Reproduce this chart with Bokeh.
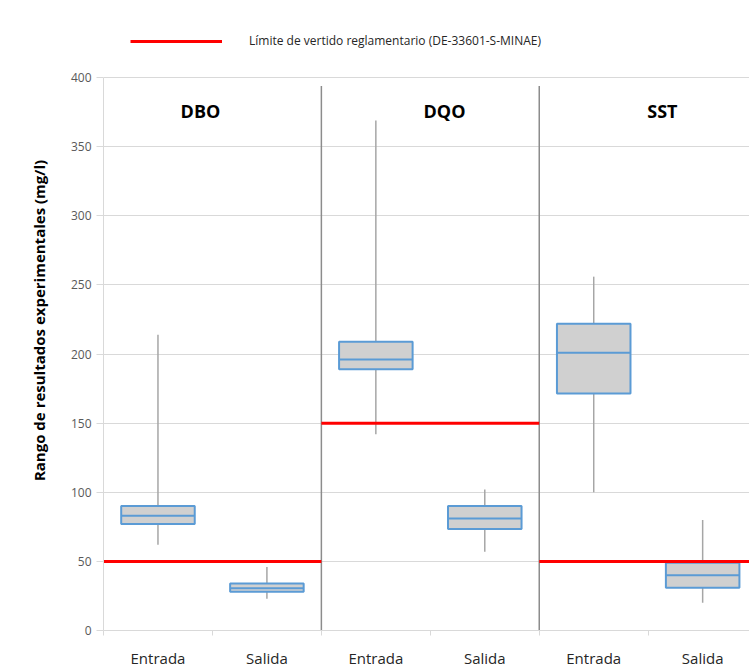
from bokeh.plotting import figure
from bokeh.models import Range1d, FixedTicker, Legend, LegendItem
from bokeh.core.properties import value
from bokeh.embed import file_html
from bokeh.resources import INLINE
import numpy as np

# ---- data ----
groups = ["DBO", "DQO", "SST"]
categories = ["Entrada", "Salida", "Entrada", "Salida", "Entrada", "Salida"]
whisker_low = [62, 23, 142, 57, 100, 20]
q1 = [77, 28, 189, 73.5, 171.5, 31]
median = [83, 30.5, 196, 81, 201, 40]
q3 = [90, 34, 209, 90, 222, 49]
whisker_high = [214, 46, 369, 102, 256, 80]
limits = [50, 150, 50]
legend_label = "Límite de vertido reglamentario (DE-33601-S-MINAE)"
y_label = "Rango de resultados experimentales (mg/l)"
y_ticks = [0, 50, 100, 150, 200, 250, 300, 350, 400]

FONT = "Open Sans"
xc = np.arange(len(categories)) + 0.5
half = 0.3375

# frame: x 103..749, y 10..638 (1.4 px per mg/l, value 400 at y=78)
p = figure(width=749, height=670, output_backend="svg", toolbar_location=None,
           x_range=Range1d(0, 5.93), y_range=Range1d(0, 628 / 1.4),
           min_border_left=103, min_border_right=0, min_border_top=10, min_border_bottom=32)
p.outline_line_color = None
p.background_fill_color = "white"

# grid
p.xgrid.grid_line_color = None
p.ygrid.grid_line_color = "#d9d9d9"
p.ygrid.grid_line_width = 1
p.ygrid.ticker = FixedTicker(ticks=y_ticks)

# y axis
p.yaxis.ticker = FixedTicker(ticks=y_ticks)
p.yaxis.bounds = (0, 400)
p.yaxis.axis_line_color = "#d9d9d9"
p.yaxis.major_tick_line_color = "#d9d9d9"
p.yaxis.major_tick_out = 7
p.yaxis.major_tick_in = 0
p.yaxis.minor_tick_line_color = None
p.yaxis.major_label_standoff = 5
p.yaxis.major_label_text_font = FONT
p.yaxis.major_label_text_font_size = "12px"
p.yaxis.major_label_text_color = "#595959"
p.yaxis.axis_label = y_label
p.yaxis.axis_label_text_font = FONT
p.yaxis.axis_label_text_font_style = "bold"
p.yaxis.axis_label_text_font_size = "15px"
p.yaxis.axis_label_text_color = "#000000"
p.yaxis.axis_label_standoff = 19

# x axis
p.xaxis.ticker = FixedTicker(ticks=list(xc), minor_ticks=list(range(0, 7)))
p.xaxis.major_label_overrides = {float(x): c for x, c in zip(xc, categories)}
p.xaxis.axis_line_color = "#d9d9d9"
p.xaxis.major_tick_line_color = None
p.xaxis.major_tick_out = 0
p.xaxis.major_tick_in = 0
p.xaxis.minor_tick_line_color = "#d9d9d9"
p.xaxis.minor_tick_out = 5
p.xaxis.minor_tick_in = 0
p.xaxis.major_label_standoff = 12
p.xaxis.major_label_text_font = FONT
p.xaxis.major_label_text_font_size = "15px"
p.xaxis.major_label_text_color = "#262626"

# group separators
sep_x = [2, 4]
p.segment(x0=sep_x, y0=[394, 394], x1=sep_x, y1=[-5, -5], line_color="#8c8c8c", line_width=1.5)

# whiskers
p.segment(x0=xc, y0=whisker_low, x1=xc, y1=whisker_high, line_color="#a6a6a6", line_width=1.5)

# boxes
p.vbar(x=xc, width=2 * half, bottom=q1, top=q3, fill_color="#d0d0d0",
       line_color="#5b9bd5", line_width=2)
# medians
p.segment(x0=xc - half, y0=median, x1=xc + half, y1=median, line_color="#5b9bd5", line_width=2)

# limit lines
gx0 = [0, 2, 4]
gx1 = [2, 4, 6]
lim = p.segment(x0=gx0, y0=limits, x1=gx1, y1=limits, line_color="#ff0000", line_width=3)

# group titles
p.text(x=[0.89, 3.13, 5.13], y=[376, 376, 376], text=groups, text_font=value(FONT),
       text_font_style="bold", text_font_size="18px", text_align="center",
       text_baseline="middle", text_color="#000000")

legend = Legend(items=[LegendItem(label=legend_label, renderers=[lim])],
                location=(27, 581), orientation="horizontal",
                glyph_width=92, glyph_height=16, label_height=16, label_standoff=27,
                padding=0, margin=0, border_line_color=None, background_fill_alpha=0,
                label_text_font=FONT, label_text_font_size="12px", label_text_color="#262626")
p.add_layout(legend, "center")

open("out.html", "w").write(file_html(p, INLINE))
